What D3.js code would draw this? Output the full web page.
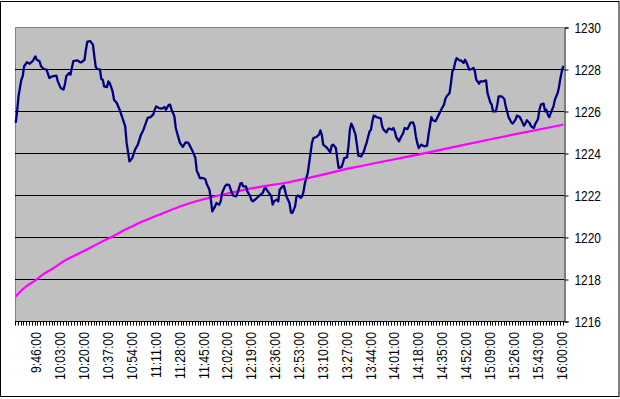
<!DOCTYPE html>
<html>
<head>
<meta charset="utf-8">
<script src="https://cdn.jsdelivr.net/npm/d3@7"></script>
<style>
  html, body { margin: 0; padding: 0; background: #fff; }
  svg { display: block; }
  text { font-family: "Liberation Sans", Arial, sans-serif; fill: #000; }
</style>
</head>
<body>
<div id="chart"></div>
<script>
// ---- data (minutes after 9:30) ----
const startTime = "9:30";
const endTime = "16:00";
const tickLabels = ["9:46:00","10:03:00","10:20:00","10:37:00","10:54:00","11:11:00","11:28:00","11:45:00",
  "12:02:00","12:19:00","12:36:00","12:53:00","13:10:00","13:27:00","13:44:00","14:01:00","14:18:00",
  "14:35:00","14:52:00","15:09:00","15:26:00","15:43:00","16:00:00"];
const yTicks = [1216, 1218, 1220, 1222, 1224, 1226, 1228, 1230];

const priceMinute = [0,1,2,4,5,6,8,10,12,14,15,17,18,20,22,24,26,29,30,32,34,35,36,38,39,41,44,46,47,49,50,51,53,55,56,57,58,60,61,62,63,65,66,67,69,70,72,74,76,78,79,81,83,85,87,89,91,94,96,98,
  99,100,102,104,106,107,109,110,111,113,114,116,117,119,120,121,123,124,126,128,129,130,131,133,135,136,138,139,140,142,143,145,146,147,149,150,152,154,155,157,158,160,161,162,164,165,167,168,169,171,173,176,177,178,180,182,183,184,186,187,188,190,191,
  193,195,196,197,199,200,201,203,204,205,206,208,209,210,211,212,214,216,217,218,219,221,222,224,225,226,228,229,230,232,233,234,236,237,238,239,240,242,243,244,246,248,249,250,252,253,254,255,257,260,261,262,264,265,266,268,269,270,271,273,274,276,277,279,280,281,283,284,285,286,287,289,290,
  291,293,294,295,296,297,299,301,303,305,306,307,309,310,311,312,313,314,316,317,319,320,321,323,325,326,327,328,330,331,333,335,336,338,339,340,342,343,344,346,348,349,350,351,353,354,356,357,359,360,362,363,364,366,367,369,370,372,373,374,376,377,378,379,380,382,383,384,386,387,388,389,390];
const priceValue = [1225.43,1225.98,1226.70,1227.49,1227.65,1228.13,1228.32,1228.25,1228.37,1228.60,1228.44,1228.37,1228.13,1228.00,1227.97,1227.57,1227.65,1227.68,1227.41,1227.10,1227.02,1227.25,1227.65,1227.81,1227.73,1228.37,1228.41,1228.32,1228.33,1228.44,1228.92,1229.30,1229.33,1229.16,1228.60,1228.10,1228.00,1227.97,1227.52,1227.49,1227.17,1227.14,1227.41,1227.33,1226.94,1226.54,1226.38,1226.06,1225.67,1225.27,1224.48,1223.60,1223.76,1224.16,1224.40,1224.83,1225.11,1225.67,1225.71,1225.84,
  1226.06,1226.22,1226.14,1226.11,1226.19,1226.06,1226.29,1226.30,1226.06,1225.75,1225.19,1224.71,1224.48,1224.29,1224.40,1224.51,1224.48,1224.35,1224.08,1223.76,1223.13,1223.02,1222.81,1222.81,1222.76,1222.54,1222.25,1221.78,1221.22,1221.46,1221.62,1221.54,1221.70,1222.10,1222.41,1222.49,1222.48,1222.10,1221.97,1221.94,1222.10,1222.54,1222.57,1222.41,1222.41,1222.17,1221.94,1221.75,1221.70,1221.81,1221.94,1222.10,1222.29,1222.33,1222.13,1221.94,1221.54,1221.70,1221.78,1221.70,1222.25,1222.41,1222.44,
  1221.90,1221.62,1221.17,1221.14,1221.46,1221.94,1221.98,1221.86,1221.94,1222.17,1222.57,1223.05,1223.52,1224.00,1224.48,1224.71,1224.76,1224.87,1225.08,1224.87,1224.40,1224.29,1224.22,1224.03,1224.35,1224.40,1224.24,1223.76,1223.29,1223.33,1223.52,1223.76,1223.79,1224.32,1225.11,1225.40,1225.27,1224.87,1224.40,1223.87,1223.84,1224.08,1224.32,1224.51,1225.03,1225.11,1225.51,1225.78,1225.71,1225.65,1225.27,1225.11,1224.98,1225.11,1225.17,1225.11,1225.19,1225.03,1224.76,1224.56,1224.71,1224.95,1225.19,1225.14,1225.27,1225.43,1225.46,1225.27,1224.79,1224.48,1224.24,1224.40,1224.35,
  1224.32,1224.35,1224.87,1225.27,1225.71,1225.56,1225.51,1225.78,1226.06,1226.30,1226.57,1226.70,1226.86,1227.33,1227.89,1228.00,1228.32,1228.52,1228.41,1228.41,1228.29,1228.44,1228.32,1227.97,1228.00,1228.05,1227.89,1227.49,1227.30,1227.41,1227.41,1227.46,1226.86,1226.41,1226.30,1225.98,1225.98,1226.30,1226.70,1226.70,1226.57,1226.22,1225.98,1225.71,1225.46,1225.40,1225.59,1225.78,1225.71,1225.59,1225.30,1225.40,1225.56,1225.43,1225.27,1225.19,1225.38,1225.62,1226.06,1226.30,1226.35,1225.98,1226.06,1225.83,1225.71,1226.06,1226.22,1226.54,1226.86,1227.17,1227.57,1227.90,1228.15];

const avgMinute = [0,6,13,20,27,34,41,49,56,63,70,77,84,91,98,104,119,143,153,167,195,240,290,340,390];
const avgValue = [1217.17,1217.57,1217.89,1218.24,1218.52,1218.84,1219.08,1219.35,1219.59,1219.83,1220.06,1220.32,1220.54,1220.76,1220.95,1221.11,1221.50,1221.95,1222.10,1222.30,1222.62,1223.30,1223.97,1224.68,1225.35];

// ---- build categories ----
function toMin(s){ const p = s.split(":").map(Number); return p[0]*60 + p[1]; }
const t0 = toMin(startTime), t1 = toMin(endTime);
const categories = d3.range(t0, t1 + 1).map(m => Math.floor(m/60) + ":" + String(m%60).padStart(2,"0") + ":00");

const W = 620, H = 399;
const plot = {left: 15, right: 564, top: 27, bottom: 321};

const svg = d3.select("#chart").append("svg").attr("width", W).attr("height", H);

// outer border
svg.append("rect").attr("x", 0.5).attr("y", 1.5).attr("width", 618.5).attr("height", 395)
  .attr("fill", "#fff").attr("stroke", "#000").attr("stroke-width", 1);

const x = d3.scaleLinear().domain([-0.5, categories.length - 0.5]).range([plot.left, plot.right]);
const y = d3.scaleLinear().domain([1216, 1230]).range([plot.bottom, plot.top]);

// plot area
svg.append("rect").attr("x", plot.left).attr("y", plot.top)
  .attr("width", plot.right - plot.left).attr("height", plot.bottom - plot.top)
  .attr("fill", "#C0C0C0");
svg.append("path")
  .attr("d", `M${plot.left+0.5},${plot.bottom}V${plot.top+0.5}H${plot.right}`)
  .attr("fill", "none").attr("stroke", "#808080").attr("stroke-width", 1);

// gridlines
svg.append("g").selectAll("line").data(yTicks.slice(1, -1)).join("line")
  .attr("x1", plot.left).attr("x2", plot.right)
  .attr("y1", d => Math.round(y(d)) + 0.5).attr("y2", d => Math.round(y(d)) + 0.5)
  .attr("stroke", "#000").attr("stroke-width", 1);

// y axis (right side)
const yAxis = d3.axisRight(y).tickValues(yTicks).tickSize(4).tickPadding(6).tickFormat(d3.format("d"));
const gy = svg.append("g").attr("transform", `translate(${plot.right + 0.5},0.5)`).call(yAxis);
gy.select(".domain").attr("stroke", "#000");
gy.selectAll(".tick line").attr("stroke", "#000");
gy.selectAll(".tick text")
  .attr("x", null).attr("dy", null)
  .attr("font-size", 14).attr("font-family", "Liberation Sans, Arial, sans-serif")
  .attr("dominant-baseline", "central")
  .attr("transform", "translate(10,0) scale(0.85,1.02)");

// x axis
const minorTicks = d3.range(0, categories.length + 1, 2).map(i => i - 0.5);
const gx = svg.append("g").attr("transform", `translate(0,${plot.bottom + 0.5})`);
gx.append("line").attr("x1", plot.left).attr("x2", plot.right + 1).attr("stroke", "#000");
gx.selectAll("line.tk").data(minorTicks).join("line").attr("class", "tk")
  .attr("x1", d => Math.round(x(d)) + 0.5).attr("x2", d => Math.round(x(d)) + 0.5)
  .attr("y1", 0).attr("y2", 4).attr("stroke", "#000");

const labelIdx = tickLabels.map(l => categories.indexOf(l));
svg.append("g").selectAll("text").data(tickLabels).join("text")
  .attr("transform", (d, i) => `translate(${x(labelIdx[i]) - 1.5},332) rotate(-90) scale(0.88,1)`)
  .attr("text-anchor", "end").attr("dominant-baseline", "central")
  .attr("font-size", 14)
  .text(d => d);

// lines
const line = d3.line().x(d => x(d[0])).y(d => y(d[1]));
const smooth = d3.line().curve(d3.curveMonotoneX).x(d => x(d[0])).y(d => y(d[1]));
const avgData = avgMinute.map((m, i) => [m, avgValue[i]]);
const priceData = priceMinute.map((m, i) => [m, priceValue[i]]);

svg.append("path").datum(avgData).attr("d", smooth)
  .attr("fill", "none").attr("stroke", "#FF00FF").attr("stroke-width", 2.2)
  .attr("stroke-linejoin", "round");
svg.append("path").datum(priceData).attr("d", line)
  .attr("fill", "none").attr("stroke", "#000080").attr("stroke-width", 2.3)
  .attr("stroke-linejoin", "round");
</script>
</body>
</html>
